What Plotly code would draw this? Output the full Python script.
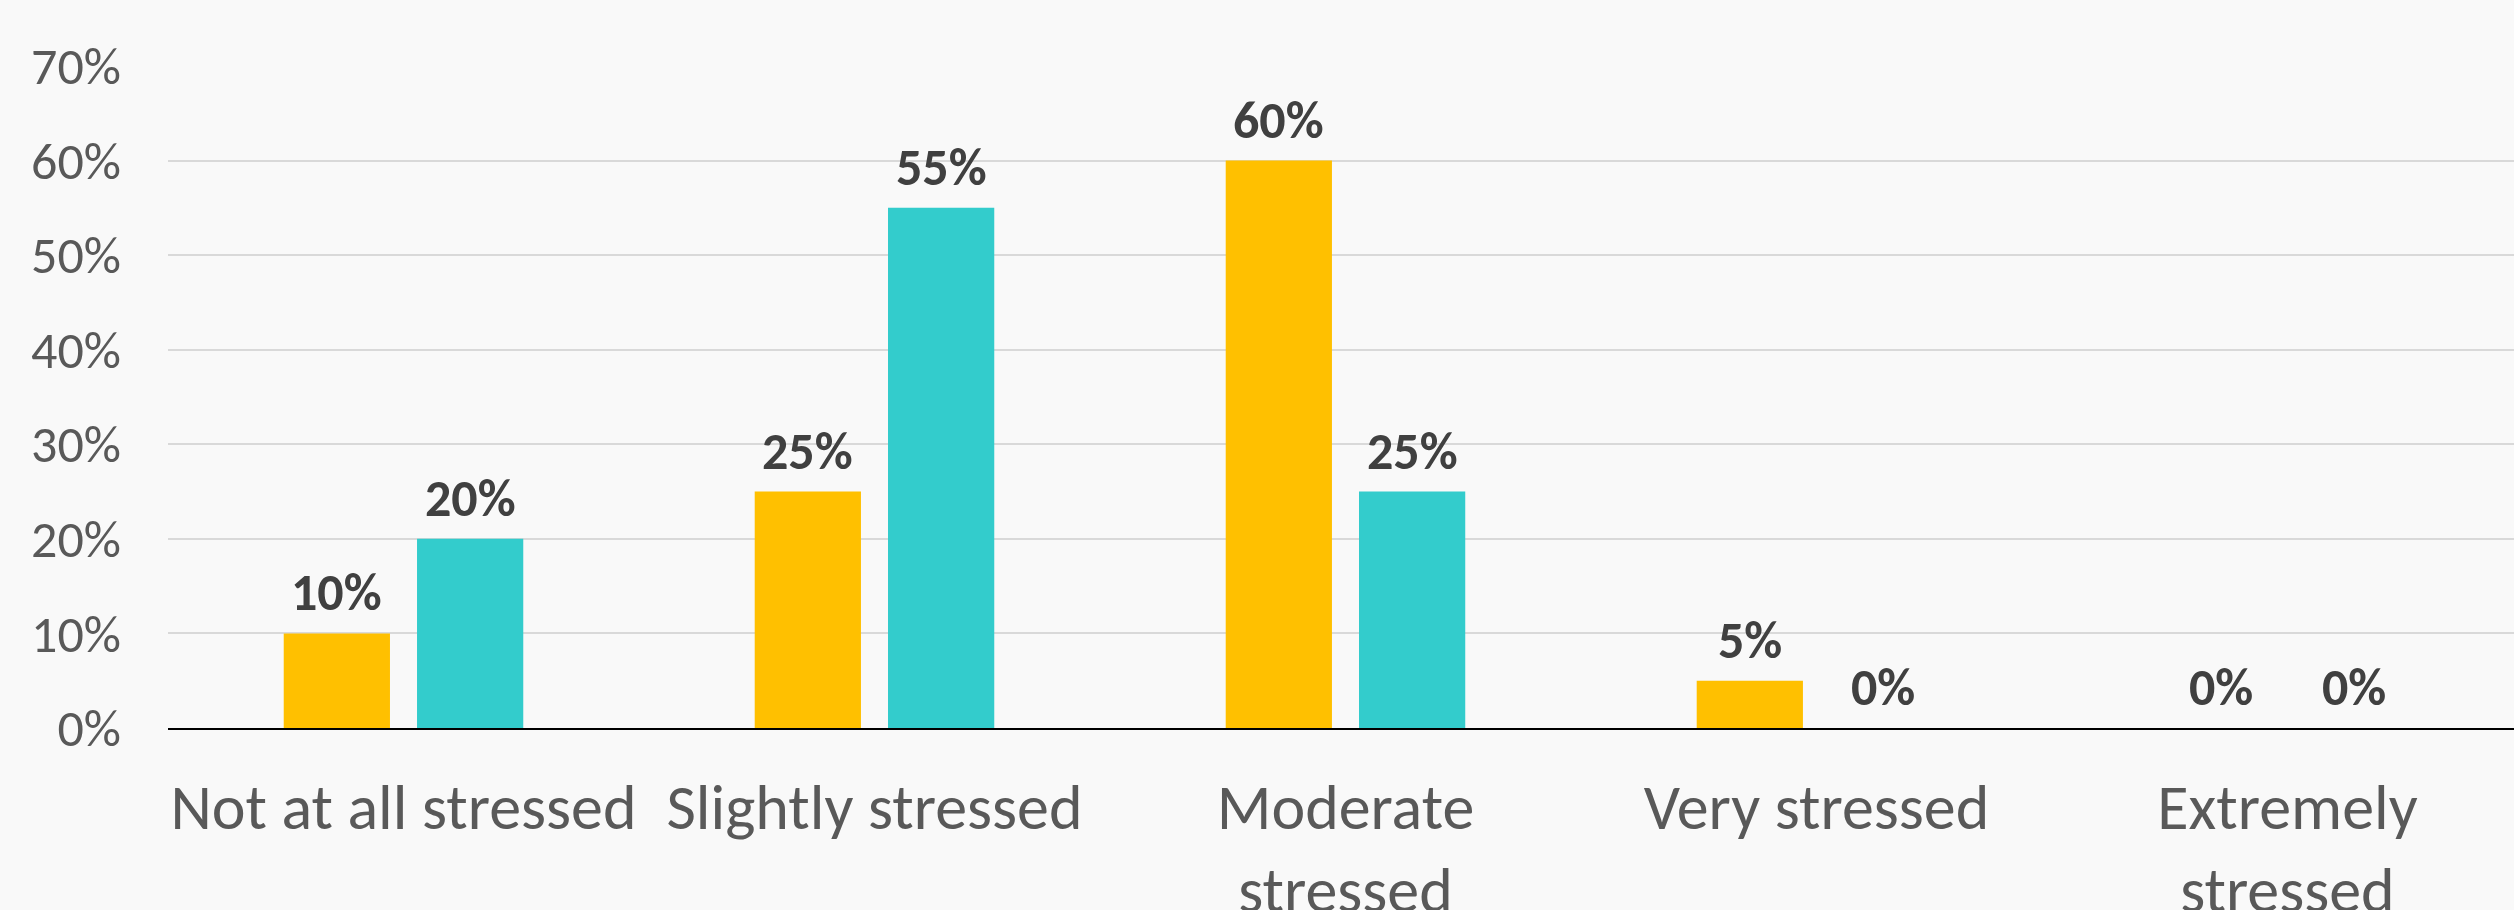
import plotly.graph_objects as go

# Stress levels and the share of respondents in each group
categories = ["Not at all stressed", "Slightly stressed", "Moderate<br>stressed",
              "Very stressed", "Extremely<br>stressed"]
series_1 = [0.10, 0.25, 0.60, 0.05, 0.00]
series_2 = [0.20, 0.55, 0.25, 0.00, 0.00]
y_ticks = [0.0, 0.1, 0.2, 0.3, 0.4, 0.5, 0.6, 0.7]
y_tick_labels = ["0%", "10%", "20%", "30%", "40%", "50%", "60%", "70%"]

FONT = "Carlito, Calibri, Lato, sans-serif"
YELLOW = "#FFC000"
TEAL = "#33CCCC"

fig = go.Figure()
fig.add_trace(go.Bar(name="Series 1", x=categories, y=series_1,
                     marker=dict(color=YELLOW, line=dict(width=0))))
fig.add_trace(go.Bar(name="Series 2", x=categories, y=series_2,
                     marker=dict(color=TEAL, line=dict(width=0))))

# Value labels above each bar, offset to each bar's slot in the group
slot = (1 - 0.434) / 2
annotations = []
for i, cat in enumerate(categories):
    for k, vals in enumerate([series_1, series_2]):
        v = vals[i]
        annotations.append(dict(
            x=i + (k - 0.5) * slot, y=v, xref="x", yref="y",
            text="<b>%d%%</b>" % round(v * 100),
            showarrow=False, yanchor="bottom", yshift=7,
            font=dict(family=FONT, size=52, color="#404040"),
        ))

fig.update_layout(
    width=2514, height=910,
    margin=dict(l=168, r=0, t=66, b=182),
    paper_bgcolor="#F9F9F9", plot_bgcolor="#F9F9F9",
    barmode="group", bargap=0.434, bargroupgap=0.203,
    showlegend=False,
    annotations=annotations,
    font=dict(family=FONT, color="#595959"),
)
fig.update_xaxes(
    type="category", range=[-0.5, 4.481], automargin=False,
    showgrid=False, showline=True, linecolor="#000000", linewidth=2,
    ticks="", ticklabelstandoff=22,
    tickfont=dict(family=FONT, size=64, color="#595959"),
)
fig.update_yaxes(
    range=[0, 0.7], tickvals=y_ticks, ticktext=y_tick_labels, automargin=False,
    showgrid=True, gridcolor="#D9D9D9", gridwidth=2,
    zeroline=False, showline=False, ticks="", ticklabelstandoff=46,
    tickfont=dict(family=FONT, size=52, color="#595959"),
)

fig.write_html("out.html")
